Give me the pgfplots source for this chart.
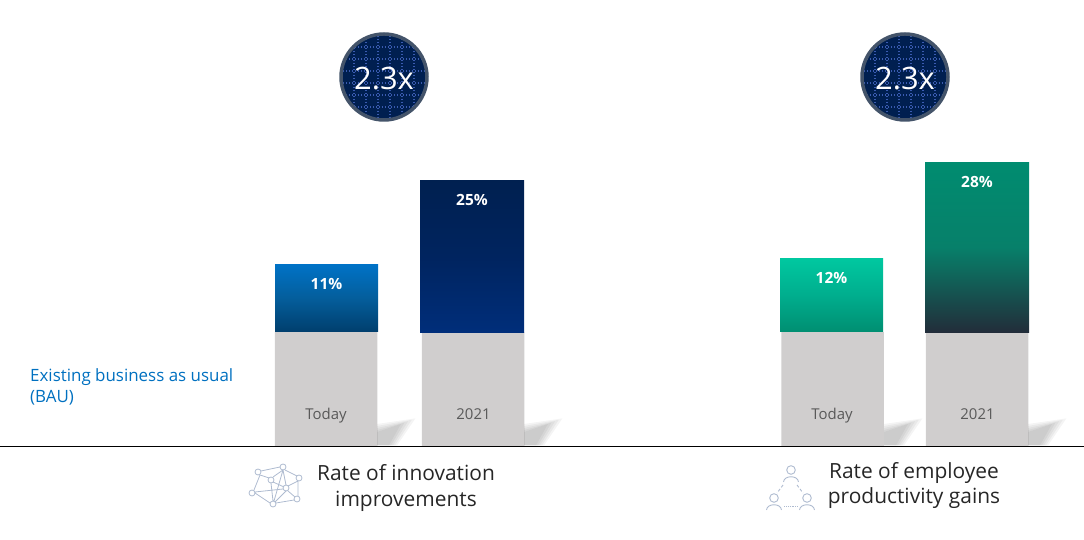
\documentclass[border=0pt]{standalone}
\usepackage{fontspec}
\setmainfont{Open Sans}
\usepackage{pgfplots}
\pgfplotsset{compat=1.18}
\definecolor{basegray}{HTML}{D0CECE}
\definecolor{badge}{HTML}{001F50}
\definecolor{badgering}{HTML}{44546A}
\definecolor{badgedot}{HTML}{3A5BB0}
\definecolor{icon}{HTML}{AEBBD0}
\definecolor{bau}{HTML}{0070C0}
\definecolor{blueA}{HTML}{0072C6}
\definecolor{blueB}{HTML}{045E9C}
\definecolor{blueC}{HTML}{003F6E}
\definecolor{navyA}{HTML}{002050}
\definecolor{navyB}{HTML}{00245F}
\definecolor{navyC}{HTML}{002E7A}
\definecolor{tealA}{HTML}{00C8A0}
\definecolor{tealB}{HTML}{00AE8E}
\definecolor{tealC}{HTML}{008F72}
\definecolor{greenA}{HTML}{008C70}
\definecolor{greenB}{HTML}{07806A}
\definecolor{greenC}{HTML}{222D3A}
\tikzset{
  pct/.style={text=white,font=\fontsize{15.5}{18}\selectfont\bfseries},
  cat/.style={text=black!65,anchor=base,font=\fontsize{15}{18}\selectfont},
  ttl/.style={text=black!85,align=center,font=\fontsize{21}{25.5}\selectfont},
}
\newcommand\badge[2]{%
  \fill[badge] (#1,#2) circle (43);
  \begin{scope}
    \clip (#1,#2) circle (43);
    \foreach \d in {-42,-30,...,42} {
      \draw[badgedot,line width=1.1,dash pattern=on 1.1 off 1.9] (#1+\d,#2-44) -- (#1+\d,#2+44);
      \draw[badgedot,line width=1.1,dash pattern=on 1.1 off 1.9] (#1-44,#2+\d) -- (#1+44,#2+\d);
    }
  \end{scope}
  \draw[badgering,line width=3.5] (#1,#2) circle (43);
  \node[text=white,font=\fontsize{31}{36}\selectfont] at (#1,#2+2) {2.3x};
}
\begin{document}
\begin{tikzpicture}[x=1bp,y=1bp]
\useasboundingbox (0,0) rectangle (1084,540);
\begin{axis}[
  at={(0,0)},anchor=south west,
  width=1084bp,height=540bp,scale only axis,
  hide axis,clip=false,
  xmin=0,xmax=1084,
  ymin=-15.51,ymax=73.6,
]
% BAU base
\addplot[ybar,bar shift=0pt,bar width=102.5,draw=none,fill=basegray]
  coordinates {(326,18.8) (473,18.8) (832.5,18.8) (977,18.8)};
% gains on top of the base
\addplot[ybar,bar shift=0pt,bar width=103,draw=none,yshift=114.8bp,
  top color=blueA,bottom color=blueC,middle color=blueB]
  coordinates {(326.5,11)};
\addplot[ybar,bar shift=0pt,bar width=104,draw=none,yshift=114bp,
  top color=navyA,bottom color=navyC,middle color=navyB]
  coordinates {(472,25)};
\addplot[ybar,bar shift=0pt,bar width=103,draw=none,yshift=114.8bp,
  top color=tealA,bottom color=tealC,middle color=tealB]
  coordinates {(831.5,12)};
\addplot[ybar,bar shift=0pt,bar width=104,draw=none,yshift=114bp,
  top color=greenA,bottom color=greenC,middle color=greenB]
  coordinates {(977,28)};
% baseline
\addplot[black,line width=1bp] coordinates {(0,0) (1084,0)};
\end{axis}
% everything below is in reference pixels
\begin{scope}[shift={(0,540)},x=1bp,y=-1bp]
  % soft shadows, layered
  \foreach \xx in {377,524,884,1028} {
    \foreach \e in {0,2,4,6,8} {
      \fill[black,fill opacity=0.045] (\xx,445.5) -- (\xx,432-\e)
        -- (\xx+24+1.8*\e,424-0.7*\e) -- (\xx+12+\e,445.5) -- cycle;
    }
  }
  \badge{384}{77}
  \badge{905}{77}
  \node[pct] at (326.5,284) {11\%};
  \node[pct] at (472,200) {25\%};
  \node[pct] at (831.5,278) {12\%};
  \node[pct] at (977,182) {28\%};
  \node[cat] at (326,420) {Today};
  \node[cat] at (473.5,420) {2021};
  \node[cat] at (832,420) {Today};
  \node[cat] at (977.5,420) {2021};
  \node[anchor=west,text=bau,align=left,inner sep=0pt,font=\fontsize{17}{21}\selectfont]
    at (30,386.5) {Existing business as usual\\(BAU)};
  \node[ttl] at (406,488) {Rate of innovation\\improvements};
  \node[ttl] at (914,485.5) {Rate of employee\\productivity gains};
  % network icon
  \begin{scope}[icon,line width=0.8]
    \foreach \a/\b in {258/472,283/467,299/478,271/480,286/488,252/493,273/504,297/499} {
      \draw[fill=white] (\a,\b) circle (3);
    }
    \draw (261,471) -- (280,467) (285,470) -- (297,476) (283,470) -- (273,477)
      (283,470) -- (286,485) (260,475) -- (269,478) (273,482) -- (284,487)
      (271,483) -- (273,501) (255,493) -- (270,503) (276,503) -- (294,500)
      (255,492) -- (283,489) (288,491) -- (295,497) (298,481) -- (288,486)
      (298,481) -- (298,496) (286,491) -- (275,502) (260,475) -- (254,490)
      (283,470) -- (274,501);
  \end{scope}
  % people icon
  \begin{scope}[icon,line width=0.9]
    \foreach \a/\b in {791/470,774/498,807/498} {
      \draw (\a,\b) circle (4.3);
      \draw (\a-7.5,\b+12) .. controls (\a-7,\b+5) and (\a+7,\b+5) .. (\a+7.5,\b+12);
    }
    \draw[densely dashed] (783,485) -- (777,493) (797,485) -- (803,493);
    \draw[densely dotted] (784,506) -- (798,506);
  \end{scope}
\end{scope}
\end{tikzpicture}
\end{document}
